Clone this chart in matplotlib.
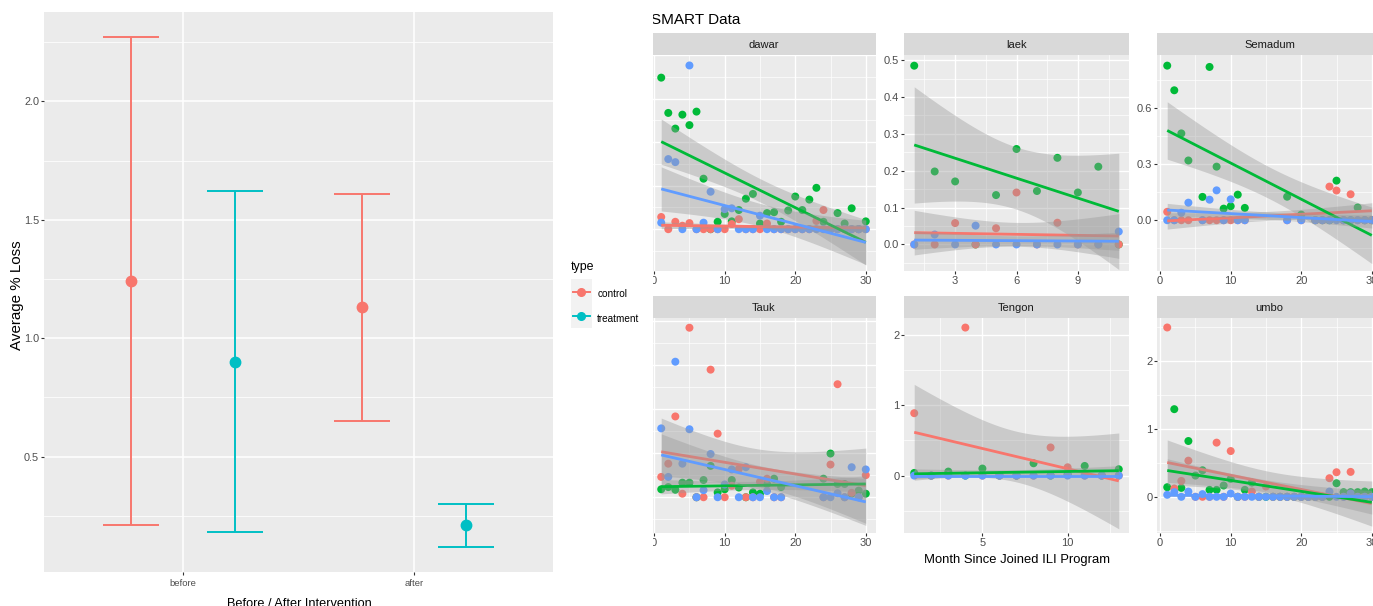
import numpy as np
import matplotlib
matplotlib.use("Agg")
import matplotlib.pyplot as plt
from matplotlib.ticker import MultipleLocator, FormatStrFormatter
from matplotlib.patches import Rectangle
from matplotlib.lines import Line2D

plt.rcParams['font.family'] = ['Liberation Sans', 'DejaVu Sans']

# ---------------- data: left chart ----------------
periods = ["before", "after"]
types = ["control", "treatment"]
mean_control = [1.24, 1.13]
low_control = [0.21, 0.65]
high_control = [2.27, 1.61]
mean_treat = [0.90, 0.21]
low_treat = [0.18, 0.12]
high_treat = [1.62, 0.30]

# ---------------- data: SMART facets ----------------
dawar_months = list(range(1, 31))
dawar_red = [0.028, 0, 0.017, 0.008, 0.014, 0, 0, 0, 0, 0, 0.012, 0.023, 0, 0, 0,
             0.013, 0, 0, 0, 0, 0, 0, 0.019, 0.044, 0, 0, 0, 0, 0, 0]
dawar_green = [0.348, 0.267, 0.231, 0.263, 0.239, 0.27, 0.116, 0, 0.017, 0.035,
               0.018, 0.044, 0.07, 0.081, 0.013, 0.037, 0.039, 0.017, 0.043, 0.075,
               0.044, 0.068, 0.095, 0.017, 0, 0.037, 0.013, 0.048, 0, 0.018]
dawar_blue = [0.015, 0.161, 0.154, 0, 0.376, 0, 0.015, 0.086, 0, 0.046, 0.048, 0, 0, 0,
              0.031, 0, 0, 0, 0, 0, 0, 0, 0, 0, 0, 0, 0, 0, 0, 0]

laek_months = list(range(1, 12))
laek_red = [0, 0, 0.058, 0, 0.044, 0.141, 0, 0.059, 0, 0, 0]
laek_green = [0.485, 0.198, 0.171, 0, 0.134, 0.259, 0.145, 0.235, 0.141, 0.211, 0]
laek_blue = [0, 0.027, 0, 0.051, 0, 0, 0, 0, 0, 0, 0.035]

semadum_months = [1, 2, 3, 4, 6, 7, 8, 9, 10, 11, 12, 18, 20, 22, 23, 24, 25, 26, 27, 28, 29, 30]
semadum_red = [0.045, 0, 0, 0, 0, 0, 0, 0, 0, 0, 0, 0, 0, 0, 0, 0.18, 0.159, 0, 0.139, 0, 0, 0]
semadum_green = [0.828, 0.696, 0.465, 0.32, 0.125, 0.821, 0.287, 0.062, 0.075, 0.137, 0.066,
                 0.126, 0.03, 0, 0, 0, 0.212, 0, 0, 0.068, 0, 0]
semadum_blue = [0, 0, 0.04, 0.094, 0, 0.11, 0.16, 0, 0.112, 0, 0, 0, 0, 0, 0, 0, 0, 0, 0, 0, 0, 0]

tauk_months = list(range(1, 19)) + list(range(24, 31))
tauk_red = [0.046, 0.076, 0.183, 0.008, 0.384, 0, 0, 0.289, 0.144, 0, 0.026, 0.064, 0, 0,
            0.035, 0.042, 0, 0, 0, 0.074, 0.256, 0, 0.01, 0, 0.05]
tauk_green = [0.018, 0.023, 0.017, 0.033, 0.033, 0, 0.039, 0.071, 0.011, 0.018, 0.039, 0.022,
              0, 0.011, 0.008, 0.03, 0.042, 0.023, 0.042, 0.099, 0.03, 0.03, 0.008, 0.015, 0.008]
tauk_blue = [0.156, 0.046, 0.307, 0.076, 0.154, 0, 0.016, 0.098, 0, 0.029, 0.063, 0, 0.068, 0,
             0, 0.014, 0, 0, 0, 0, 0.009, 0, 0.068, 0, 0.063]

tengon_months = list(range(1, 14))
tengon_red = [0.887, 0, 0, 2.104, 0, 0, 0, 0, 0.40, 0.118, 0, 0, 0]
tengon_green = [0.038, 0, 0.057, 0, 0.1, 0, 0, 0.175, 0, 0.02, 0.137, 0, 0.09]
tengon_blue = [0, 0, 0, 0, 0, 0, 0, 0, 0, 0, 0, 0, 0]

umbo_months = list(range(1, 31))
umbo_red = [2.5, 0.123, 0.235, 0.534, 0, 0, 0, 0.8, 0, 0.676, 0, 0, 0.078, 0, 0.152, 0, 0, 0,
            0, 0, 0, 0, 0, 0.275, 0.363, 0, 0.368, 0, 0, 0]
umbo_green = [0.142, 1.294, 0.132, 0.824, 0.314, 0.392, 0.103, 0.103, 0.167, 0.265, 0, 0.103,
              0.211, 0, 0, 0, 0, 0, 0, 0, 0, 0, 0, 0, 0.2, 0.069, 0.069, 0.069, 0.078, 0.069]
umbo_blue = [0.03, 0.069, 0, 0.078, 0, 0.04, 0, 0, 0, 0.049, 0, 0, 0, 0, 0, 0, 0, 0, 0, 0, 0,
             0, 0, 0.078, 0, 0, 0.05, 0, 0, 0]

facet_names = ["dawar", "laek", "Semadum", "Tauk", "Tengon", "umbo"]
facet_ylims = [(-0.096, 0.40), (-0.072, 0.514), (-0.272, 0.885),
               (-0.081, 0.406), (-0.816, 2.24), (-0.534, 2.64)]
facet_ystep = [0.1, 0.1, 0.3, 0.1, 1, 1]
facet_xstep = [10, 3, 10, 10, 5, 10]
facet_yfmt = ['%.1f', '%.1f', '%.1f', '%.1f', '%d', '%d']

# ---------------- layout helpers ----------------
W, H = 1373, 606
fig = plt.figure(figsize=(W / 100, H / 100), dpi=100)
fig.patch.set_facecolor('white')


def fx(px):
    return px / W


def fy(py):
    return 1 - py / H


def box(x0, y0, x1, y1):
    return [x0 / W, 1 - y1 / H, (x1 - x0) / W, (y1 - y0) / H]


PANEL = '#EBEBEB'
STRIP = '#D9D9D9'
TICKC = '#333333'
LABC = '#4D4D4D'
RED = '#F8766D'
GREEN = '#00BA38'
BLUE = '#619CFF'
CYAN = '#00BFC4'


def t975(df):
    z = 1.959964
    g1 = (z ** 3 + z) / 4
    g2 = (5 * z ** 5 + 16 * z ** 3 + 3 * z) / 96
    g3 = (3 * z ** 7 + 19 * z ** 5 + 17 * z ** 3 - 15 * z) / 384
    return z + g1 / df + g2 / df ** 2 + g3 / df ** 3


def lm_band(x, y, n_grid=80):
    x = np.asarray(x, float)
    y = np.asarray(y, float)
    n = len(x)
    xb = x.mean()
    sxx = ((x - xb) ** 2).sum()
    b = ((x - xb) * (y - y.mean())).sum() / sxx
    a = y.mean() - b * xb
    resid = y - (a + b * x)
    s = np.sqrt((resid ** 2).sum() / (n - 2))
    xg = np.linspace(x.min(), x.max(), n_grid)
    fit = a + b * xg
    se = s * np.sqrt(1 / n + (xg - xb) ** 2 / sxx)
    t = t975(n - 2)
    return xg, fit, fit - t * se, fit + t * se


# ---------------- left chart ----------------
ax = fig.add_axes(box(44, 12, 553, 572))
ax.set_facecolor(PANEL)
for s in ax.spines.values():
    s.set_visible(False)
xpos = np.arange(1, len(periods) + 1)
dodge = 0.225
for off, means, lows, highs, col in [(-dodge, mean_control, low_control, high_control, RED),
                                     (dodge, mean_treat, low_treat, high_treat, CYAN)]:
    means = np.array(means)
    lows = np.array(lows)
    highs = np.array(highs)
    ax.errorbar(xpos + off, means, yerr=[means - lows, highs - means], fmt='o', color=col,
                ms=7.5, capsize=20, capthick=1.4, elinewidth=1.4, zorder=3)
allv = low_control + low_treat + high_control + high_treat
lo, hi = min(allv), max(allv)
pad = 0.05 * (hi - lo)
ax.set_ylim(lo - pad, hi + pad)
ax.set_xlim(0.4, len(periods) + 0.6)
ax.set_xticks(xpos)
ax.set_xticklabels(periods)
ax.yaxis.set_major_locator(MultipleLocator(0.5))
ax.yaxis.set_minor_locator(MultipleLocator(0.25))
ax.yaxis.set_major_formatter(FormatStrFormatter('%.1f'))
ax.set_axisbelow(True)
ax.grid(True, which='major', color='white', lw=1.1)
ax.grid(True, which='minor', axis='y', color='white', lw=0.55)
ax.tick_params(axis='y', which='minor', length=0)
ax.tick_params(which='major', length=2.5, width=0.8, color=TICKC, labelcolor=LABC)
ax.tick_params(axis='x', labelsize=6.8, pad=2.5)
ax.tick_params(axis='y', labelsize=7.8, pad=1.0)

fig.text(fx(17.5), fy(295), "Average % Loss", rotation=90, ha='center', va='center',
         size=10.9, color='black')
fig.text(fx(299), fy(607.3), "Before / After Intervention", ha='center', va='baseline',
         size=9.2, color='black')

# legend of left chart
fig.text(fx(571), fy(270), "type", ha='left', va='baseline', size=8.9, color='black')
key_tops = [279.3, 303.8]
key_cols = [RED, CYAN]
key_base = [296.7, 321.5]
for i, lab in enumerate(types):
    t0 = key_tops[i]
    fig.add_artist(Rectangle((fx(571), fy(t0 + 24.5)), 20.7 / W, 24.5 / H,
                             transform=fig.transFigure, facecolor='#F2F2F2', edgecolor='none'))
    cy = fy(t0 + 12.25)
    fig.add_artist(Line2D([fx(573.3), fx(590)], [cy, cy], transform=fig.transFigure,
                          color=key_cols[i], lw=1.4))
    fig.add_artist(Line2D([fx(581.3)], [cy], transform=fig.transFigure, marker='o',
                          ms=5.5, color=key_cols[i], lw=0))
    fig.text(fx(597.3), fy(key_base[i]), lab, ha='left', va='baseline', size=7.2, color='black')

# ---------------- SMART facets ----------------
facets = [
    (dawar_months, dawar_red, dawar_green, dawar_blue),
    (laek_months, laek_red, laek_green, laek_blue),
    (semadum_months, semadum_red, semadum_green, semadum_blue),
    (tauk_months, tauk_red, tauk_green, tauk_blue),
    (tengon_months, tengon_red, tengon_green, tengon_blue),
    (umbo_months, umbo_red, umbo_green, umbo_blue),
]
col_left = [651, 904, 1157]
pw = 225
row_strip = [(33, 55), (296, 318)]
row_panel = [(55, 271), (318, 533)]

for i, (months, r_, g_, b_) in enumerate(facets):
    r, c = divmod(i, 3)
    x0 = col_left[c]
    x1 = x0 + pw
    st0, st1 = row_strip[r]
    p0, p1 = row_panel[r]
    sax = fig.add_axes(box(x0, st0, x1, st1))
    sax.set_facecolor(STRIP)
    sax.set_xticks([])
    sax.set_yticks([])
    for s in sax.spines.values():
        s.set_visible(False)
    fig.text(fx((x0 + x1) / 2), fy(st0 + 15), facet_names[i], ha='center', va='baseline',
             size=8, color='#1A1A1A')

    fa = fig.add_axes(box(x0, p0, x1, p1))
    fa.set_facecolor(PANEL)
    for s in fa.spines.values():
        s.set_visible(False)
    m = np.array(months, float)
    for vals, colr in [(g_, GREEN), (r_, RED), (b_, BLUE)]:
        fa.scatter(m, vals, s=33, color=colr, edgecolors='none', zorder=2)
    z = 3
    for vals, colr in [(r_, RED), (g_, GREEN), (b_, BLUE)]:
        xg, fit, lo_, hi_ = lm_band(m, vals)
        fa.fill_between(xg, lo_, hi_, color='#999999', alpha=0.4, lw=0, zorder=z)
        fa.plot(xg, fit, color=colr, lw=2.0, zorder=z + 0.5, solid_capstyle='butt')
        z += 1
    rng = m.max() - m.min()
    fa.set_xlim(m.min() - 0.05 * rng, m.max() + 0.05 * rng)
    fa.set_ylim(*facet_ylims[i])
    fa.xaxis.set_major_locator(MultipleLocator(facet_xstep[i]))
    fa.xaxis.set_minor_locator(MultipleLocator(facet_xstep[i] / 2))
    fa.yaxis.set_major_locator(MultipleLocator(facet_ystep[i]))
    fa.yaxis.set_minor_locator(MultipleLocator(facet_ystep[i] / 2))
    fa.yaxis.set_major_formatter(FormatStrFormatter(facet_yfmt[i]))
    fa.xaxis.set_major_formatter(FormatStrFormatter('%d'))
    fa.set_axisbelow(True)
    fa.grid(True, which='major', color='white', lw=1.0)
    fa.grid(True, which='minor', color='white', lw=0.5)
    fa.tick_params(which='minor', length=0)
    fa.tick_params(which='major', length=2.2, width=0.8, color=TICKC, labelcolor=LABC,
                   labelsize=8, pad=1.2)
    if c == 0:
        fa.tick_params(axis='y', which='both', left=False, labelleft=False)

fig.text(fx(651), fy(24), "SMART Data", ha='left', va='baseline', size=11, color='black')
fig.text(fx(1016.7), fy(563), "Month Since Joined ILI Program", ha='center', va='baseline',
         size=9.4, color='black')

# crop edge between the two screenshots
fig.add_artist(Rectangle((fx(645), 0), 7.5 / W, 1, transform=fig.transFigure,
                         facecolor='white', edgecolor='none', zorder=100))

fig.savefig("out.png", dpi=100, facecolor='white')
